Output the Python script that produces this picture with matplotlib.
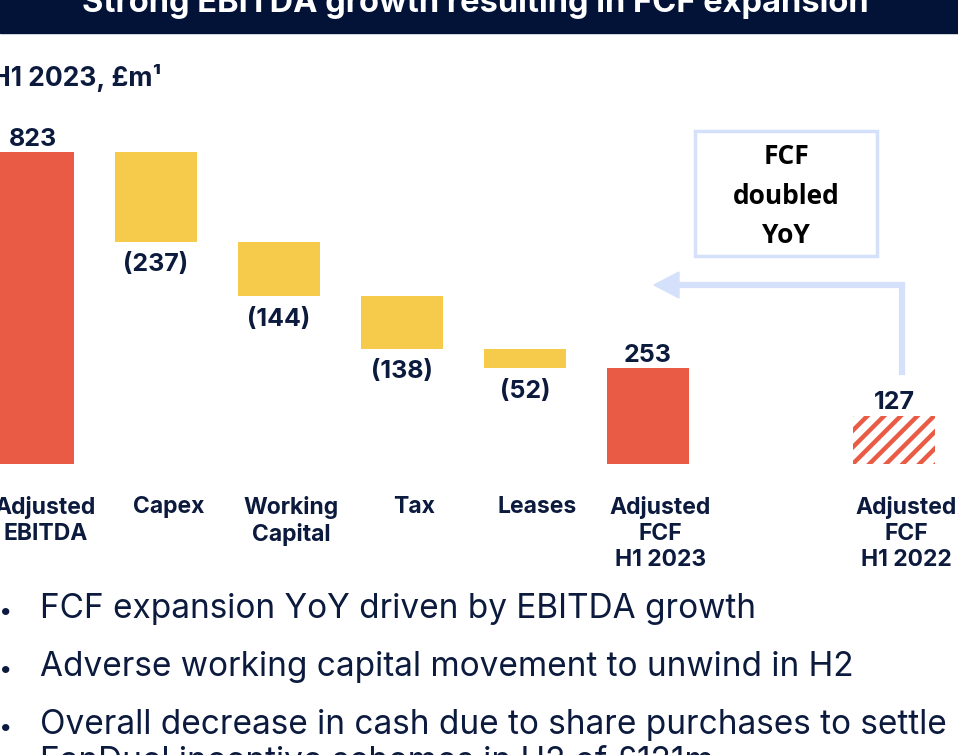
import matplotlib
matplotlib.use('Agg')
import matplotlib.pyplot as plt
from matplotlib.patches import Rectangle, Polygon

W, H = 958, 755

# waterfall data, H1 2023, £m
categories = ['Adjusted\nEBITDA', 'Capex', 'Working\nCapital', 'Tax', 'Leases',
              'Adjusted\nFCF\nH1 2023', 'Adjusted\nFCF\nH1 2022']
positions = [0, 1, 2, 3, 4, 5, 7]
values = [823, -237, -144, -138, -52, 253, 127]
value_labels = ['823', '(237)', '(144)', '(138)', '(52)', '253', '127']
kinds = ['total', 'step', 'step', 'step', 'step', 'total', 'prior']

title = 'Strong EBITDA growth resulting in FCF expansion'
subtitle = 'H1 2023, £m\u00b9'
callout = 'FCF\ndoubled\nYoY'
bullets = ['FCF expansion YoY driven by EBITDA growth',
           'Adverse working capital movement to unwind in H2',
           'Overall decrease in cash due to share purchases to settle\nFanDuel incentive schemes in H2 of £121m']

RED = '#EA5B45'
YELLOW = '#F6CB4C'
NAVY = '#0B1A3D'
BANNER = '#031338'
LIGHT = '#D5E0FB'

plt.rcParams['font.family'] = ['Inter', 'DejaVu Sans']
plt.rcParams['hatch.linewidth'] = 3.2


def fig_xy(x, y):
    # pixel position (top-left origin) -> figure fraction
    return x / W, 1 - y / H


fig = plt.figure(figsize=(W / 100, H / 100), dpi=100)
ax = fig.add_axes([0, 0, 1, 1])

# axis scale: bar i centred at 33 + 123*i px, zero line at 464 px, 823 -> 312 px
x0, step = 33, 123
base, k = 464, 312 / 823
ax.set_xlim((0 - x0) / step, (W - x0) / step)
ax.set_ylim(-(H - base) / k, base / k)
ax.axis('off')

running = 0
for pos, v, lab, kind, cat in zip(positions, values, value_labels, kinds, categories):
    if kind == 'step':
        running += v
        bottom, height = running, -v
        ax.bar(pos, height, bottom=bottom, width=0.667, color=YELLOW, linewidth=0)
        ax.annotate(lab, (pos, bottom), xytext=(0, -8), textcoords='offset points',
                    ha='center', va='top', fontsize=18, fontweight='bold', color=NAVY)
    else:
        if kind == 'total':
            running = v
            ax.bar(pos, v, width=0.667, color=RED, linewidth=0)
        else:
            ax.bar(pos, v, width=0.667, facecolor='white', edgecolor=RED,
                   hatch='//', linewidth=0)
        ax.annotate(lab, (pos, v), xytext=(0, 1), textcoords='offset points',
                    ha='center', va='bottom', fontsize=18, fontweight='bold', color=NAVY)
    ax.annotate(cat, (pos, 0), xytext=(9, -23), textcoords='offset points',
                ha='center', va='top', fontsize=16.5, fontweight='bold', color=NAVY,
                linespacing=1.25)

# title banner
fig.patches.append(Rectangle(fig_xy(0, 33), 1, 33 / H, transform=fig.transFigure,
                             color=BANNER, zorder=0))
fig.text(*fig_xy(475, 12), title, ha='center', va='baseline', fontsize=23.5,
         fontweight='bold', color='white')

fig.text(*fig_xy(-9, 86), subtitle, ha='left', va='baseline', fontsize=19,
         fontweight='bold', color=NAVY)

# callout box
bx0, by0 = fig_xy(695, 256)
bx1, by1 = fig_xy(877, 131)
fig.patches.append(Rectangle((bx0, by0), bx1 - bx0, by1 - by0, transform=fig.transFigure,
                             facecolor='white', edgecolor=LIGHT, linewidth=2.5))
fig.text(*fig_xy(786, 196), callout, ha='center', va='center', fontsize=19,
         fontweight='bold', color='black', linespacing=1.6,
         family=['Open Sans', 'DejaVu Sans'])

# elbow arrow from H1 2022 bar back to H1 2023
ax_line = [fig_xy(902, 372), fig_xy(902, 285), fig_xy(678, 285)]
fig.lines.append(plt.Line2D([p[0] for p in ax_line], [p[1] for p in ax_line],
                            transform=fig.transFigure, color=LIGHT, linewidth=4.5,
                            solid_joinstyle='miter'))
fig.patches.append(Polygon([fig_xy(654, 285), fig_xy(679, 272), fig_xy(679, 298)],
                           closed=True, transform=fig.transFigure, color=LIGHT))

# bullets: first baseline per bullet, wrapped lines 37 px apart
bullet_y = [618, 676, 734]
for by, txt in zip(bullet_y, bullets):
    fig.text(*fig_xy(-1, by), '\u2022', ha='left', va='baseline', fontsize=17, color=NAVY)
    for j, line in enumerate(txt.split('\n')):
        fig.text(*fig_xy(40, by + 37 * j), line, ha='left', va='baseline',
                 fontsize=24, color=NAVY)

fig.savefig('out.png', dpi=100)
